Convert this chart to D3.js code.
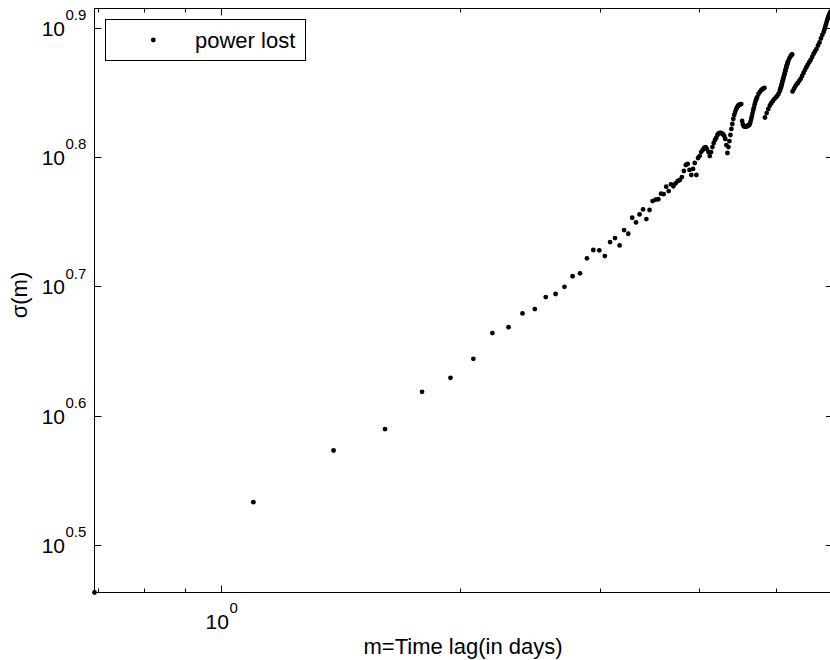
<!DOCTYPE html>
<html>
<head>
<meta charset="utf-8">
<script src="https://cdn.jsdelivr.net/npm/d3@7/dist/d3.min.js"></script>
<style>
  body { margin: 0; background: #fff; }
  svg { display: block; overflow: hidden; }
  text { font-family: "Liberation Sans", Arial, Helvetica, sans-serif; fill: #000; }
</style>
</head>
<body>
<svg id="chart" width="830" height="660"></svg>
<script>
// lag axis values (as plotted) and sigma(m)
var lag = [
    0.6931, 1.0986, 1.3863, 1.6094, 1.7918, 1.9459, 2.0794, 2.1972, 2.3026, 2.3979,
    2.4849, 2.5649, 2.6391, 2.7081, 2.7726, 2.8332, 2.8904, 2.9444, 2.9957, 3.0445,
    3.0910, 3.1355, 3.1781, 3.2189, 3.2581, 3.2958, 3.3322, 3.3673, 3.4012, 3.4340,
    3.4657, 3.4965, 3.5264, 3.5553, 3.5835, 3.6109, 3.6376, 3.6636, 3.6889, 3.7136,
    3.7377,
    3.7612, 3.7842, 3.8067, 3.8286, 3.8501, 3.8712, 3.8918, 3.9120, 3.9318, 3.9512,
    3.9703, 3.9890, 4.0073, 4.0254, 4.0431, 4.0604, 4.0775, 4.0943, 4.1109, 4.1271,
    4.1431, 4.1589, 4.1744, 4.1897, 4.2047, 4.2195, 4.2341, 4.2485, 4.2627, 4.2767,
    4.2905, 4.3041, 4.3175, 4.3307, 4.3438, 4.3567, 4.3694, 4.3820, 4.3944, 4.4067,
    4.4188, 4.4308, 4.4427, 4.4543, 4.4659, 4.4773, 4.4886, 4.4998, 4.5109, 4.5218,
    4.5326, 4.5433, 4.5539, 4.5643, 4.5747, 4.5850, 4.5951, 4.6052, 4.6151, 4.6250,
    4.6347, 4.6444, 4.6540, 4.6634, 4.6728, 4.6821, 4.6913, 4.7005, 4.7095, 4.7185,
    4.7274, 4.7362, 4.7536, 4.7707, 4.7875, 4.8040, 4.8203, 4.8363,
    4.8442, 4.8675, 4.8903, 4.9127, 4.9345, 4.9558, 4.9767, 4.9972, 5.0173, 5.0370,
    5.0562, 5.0626, 5.0689, 5.0752, 5.0814, 5.0876, 5.0938, 5.0999, 5.1059, 5.1120,
    5.1180, 5.1240, 5.1299, 5.1358, 5.1417, 5.1475, 5.1533, 5.1591, 5.1648, 5.1705,
    5.1761, 5.1818, 5.1985, 5.2149, 5.2311, 5.2417,
    5.2470, 5.2679, 5.2883, 5.3083, 5.3279, 5.3471, 5.3706, 5.3936, 5.4161, 5.4381,
    5.4596, 5.4806, 5.5053, 5.5294, 5.5530, 5.5759, 5.5984, 5.6240, 5.6490, 5.6733,
    5.6971, 5.7203, 5.7430, 5.7557, 5.7683, 5.7807, 5.7930, 5.8051, 5.8171, 5.8289,
    5.8406, 5.8522, 5.8636, 5.8861, 5.8999
];
var sigma = [
    2.905, 3.412, 3.741, 3.886, 4.153, 4.258, 4.404, 4.611, 4.660, 4.775,
    4.812, 4.916, 4.943, 5.007, 5.102, 5.129, 5.267, 5.346, 5.343, 5.289,
    5.422, 5.461, 5.390, 5.539, 5.503, 5.662, 5.615, 5.696, 5.747, 5.649,
    5.741, 5.833, 5.847, 5.852, 5.910, 5.905, 5.984, 5.938, 6.009, 5.988,
    6.020,
    6.045, 6.056, 6.088, 6.154, 6.220, 6.231, 6.165, 6.110, 6.176, 6.242,
    6.110, 6.298, 6.320, 6.365, 6.388, 6.411, 6.422, 6.399, 6.365, 6.320,
    6.365, 6.422, 6.468, 6.503, 6.526, 6.561, 6.579, 6.585, 6.585, 6.579,
    6.567, 6.550, 6.515, 6.445, 6.354, 6.422, 6.491, 6.561, 6.632, 6.691,
    6.751, 6.799, 6.835, 6.866, 6.890, 6.909, 6.921, 6.927, 6.933, 6.933,
    6.727, 6.685, 6.667, 6.661, 6.661, 6.661, 6.664, 6.667, 6.673, 6.679,
    6.691, 6.715, 6.751, 6.787, 6.823, 6.860, 6.890, 6.927, 6.958, 6.983,
    7.002, 7.020, 7.058, 7.083, 7.102, 7.115, 7.128, 7.134,
    6.769, 6.823, 6.872, 6.915, 6.946, 6.971, 6.995, 7.014, 7.033, 7.058,
    7.096, 7.115, 7.134, 7.147, 7.166, 7.191, 7.211, 7.230, 7.249, 7.269,
    7.288, 7.308, 7.327, 7.347, 7.366, 7.386, 7.406, 7.423, 7.439, 7.455,
    7.472, 7.485, 7.519, 7.546, 7.566, 7.573,
    7.090, 7.121, 7.153, 7.179, 7.198, 7.223, 7.249, 7.288, 7.327, 7.366,
    7.399, 7.432, 7.466, 7.499, 7.539, 7.579, 7.613, 7.647, 7.695, 7.736,
    7.792, 7.840, 7.882, 7.918, 7.953, 7.988, 8.024, 8.060, 8.089, 8.117,
    8.139, 8.162, 8.176, 8.197, 8.219
];

var xMajorTicks = [1];
var xMajorLabels = ["0"];
var xMinorTicks = [0.7, 0.8, 0.9, 2, 3, 4, 5];
var yTickExp = [0.5, 0.6, 0.7, 0.8, 0.9];
var yTickLabels = ["0.5", "0.6", "0.7", "0.8", "0.9"];
var seriesName = "power lost";

function drawChart() {
    var svg = d3.select("#chart");

    // plot box (right edge falls just past the picture, like the original)
    var box = {left: 94.5, right: 833, top: 8.5, bottom: 592.5};

    var data = lag.map(function (d, i) { return {x: d, y: sigma[i]}; });

    var x = d3.scaleLog()
        .domain(d3.extent(lag))
        .range([box.left, box.right]);
    var y = d3.scaleLog()
        .domain(d3.extent(sigma))
        .range([box.bottom, box.top]);

    var majorLen = 7, minorLen = 4;
    var ticks = svg.append("g").attr("stroke", "#000").attr("stroke-width", 1);

    // x ticks, bottom and top, pointing inward
    function xTick(v, len) {
        var px = Math.round(x(v)) + 0.5;
        ticks.append("line").attr("x1", px).attr("x2", px).attr("y1", box.bottom).attr("y2", box.bottom - len);
        ticks.append("line").attr("x1", px).attr("x2", px).attr("y1", box.top).attr("y2", box.top + len);
    }
    xMinorTicks.forEach(function (v) { xTick(v, minorLen); });
    xMajorTicks.forEach(function (v) { xTick(v, majorLen); });

    // y ticks, left and right
    yTickExp.forEach(function (e) {
        var py = Math.round(y(Math.pow(10, e))) + 0.5;
        ticks.append("line").attr("x1", box.left).attr("x2", box.left + majorLen).attr("y1", py).attr("y2", py);
        ticks.append("line").attr("x1", box.right).attr("x2", box.right - majorLen).attr("y1", py).attr("y2", py);
    });

    // box
    svg.append("rect")
        .attr("x", box.left).attr("y", box.top)
        .attr("width", box.right - box.left).attr("height", box.bottom - box.top)
        .attr("fill", "none").attr("stroke", "#000").attr("stroke-width", 1);

    // points
    svg.append("g")
        .selectAll("circle")
        .data(data)
        .enter().append("circle")
        .attr("cx", function (d) { return x(d.x); })
        .attr("cy", function (d) { return y(d.y); })
        .attr("r", 2.4)
        .attr("fill", "#000");

    // y tick labels: 10^e
    yTickExp.forEach(function (e, i) {
        var py = y(Math.pow(10, e));
        svg.append("text").attr("x", 65).attr("y", py + 8)
            .attr("text-anchor", "end").style("font-size", "21px").text("10");
        svg.append("text").attr("x", 65.5).attr("y", py - 7.5)
            .style("font-size", "15px").text(yTickLabels[i]);
    });

    // x tick labels
    xMajorTicks.forEach(function (v, i) {
        var px = x(v);
        svg.append("text").attr("x", px + 8).attr("y", 629)
            .attr("text-anchor", "end").style("font-size", "21px").text("10");
        svg.append("text").attr("x", px + 8.5).attr("y", 613)
            .style("font-size", "15px").text(xMajorLabels[i]);
    });

    // axis titles
    svg.append("text")
        .attr("x", 463).attr("y", 654)
        .attr("text-anchor", "middle")
        .style("font-size", "22px")
        .text("m=Time lag(in days)");

    svg.append("text")
        .attr("transform", "translate(27,295) rotate(-90)")
        .attr("text-anchor", "middle")
        .style("font-size", "22px")
        .text("σ(m)");

    // legend
    var legend = svg.append("g");
    legend.append("rect")
        .attr("x", 105.5).attr("y", 19.5)
        .attr("width", 200).attr("height", 41)
        .attr("fill", "#fff").attr("stroke", "#000").attr("stroke-width", 1);
    legend.append("circle")
        .attr("cx", 153.3).attr("cy", 40).attr("r", 2.4).attr("fill", "#000");
    legend.append("text")
        .attr("x", 195).attr("y", 48)
        .style("font-size", "22px")
        .text(seriesName);
}
drawChart();
</script>
</body>
</html>
